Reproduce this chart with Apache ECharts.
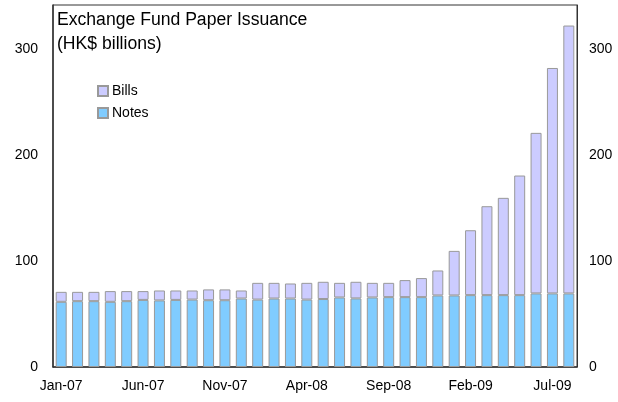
<!DOCTYPE html>
<html>
<head>
<meta charset="utf-8">
<script src="https://cdn.jsdelivr.net/npm/echarts@6/dist/echarts.min.js"></script>
<style>html,body{margin:0;padding:0;background:#fff}#c{width:618px;height:402px}</style>
</head>
<body>
<div id="c"></div>
<script>
const months = ['Jan-07','Feb-07','Mar-07','Apr-07','May-07','Jun-07','Jul-07','Aug-07','Sep-07','Oct-07','Nov-07','Dec-07',
  'Jan-08','Feb-08','Mar-08','Apr-08','May-08','Jun-08','Jul-08','Aug-08','Sep-08','Oct-08','Nov-08','Dec-08',
  'Jan-09','Feb-09','Mar-09','Apr-09','May-09','Jun-09','Jul-09','Aug-09'];
const notes = [61.6,62.2,62.2,61.6,62.2,63.4,62.9,63.4,63.7,63.1,63.1,64.7,63.7,64.7,64.7,63.7,64.2,65.7,64.8,65.7,66.0,66.0,66.0,67.6,67.6,67.9,67.9,67.9,67.9,69.5,69.5,69.5];
const bills = [9.4,8.8,8.8,10.1,9.5,8.3,9.4,8.9,8.6,10.2,10.2,7.6,15.8,14.8,14.2,15.8,16.3,13.8,15.7,13.8,13.5,16.1,18.0,23.6,42.1,61.3,84.0,91.9,113.0,151.7,213.0,253.1];
const yTicks = [0,100,200,300];

const FONT = 'Liberation Sans, Arial, sans-serif';
const chart = echarts.init(document.getElementById('c'), null, {renderer:'canvas'});
const yLabelL = {
  fontFamily: FONT, fontSize: 14, color: '#000', margin: 15,
  formatter: v => yTicks.includes(v) ? String(v) : ''
};
const yLabelR = Object.assign({}, yLabelL, {margin: 12});
chart.setOption({
  animation: false,
  backgroundColor: '#fff',
  title: {
    text: 'Exchange Fund Paper Issuance\n(HK$ billions)',
    left: 52, top: 3,
    textStyle: {fontFamily: FONT, fontSize: 17.6, fontWeight: 'normal', color: '#000', lineHeight: 24}
  },
  legend: {
    data: ['Bills','Notes'],
    orient: 'vertical', left: 92, top: 79,
    itemWidth: 10, itemHeight: 10, itemGap: 8, icon: 'rect',
    textStyle: {fontFamily: FONT, fontSize: 14, color: '#000', padding: [0,0,0,-1]}
  },
  grid: {left: 53, right: 41, top: 5, bottom: 35, show: true, borderColor: '#333', borderWidth: 1},
  xAxis: {
    type: 'category', data: months,
    axisLine: {lineStyle: {color: '#333', width: 1.5}},
    axisTick: {show: false},
    axisLabel: {interval: 4, fontFamily: FONT, fontSize: 14, color: '#000', margin: 12}
  },
  yAxis: [
    {type: 'value', min: 0, max: 342, interval: 100, splitLine: {show: false},
     axisLine: {show: true, lineStyle: {color: '#333', width: 1.5}}, axisTick: {show: false}, axisLabel: yLabelL},
    {type: 'value', position: 'right', min: 0, max: 342, interval: 100, splitLine: {show: false},
     axisLine: {show: true, lineStyle: {color: '#333', width: 1}}, axisTick: {show: false}, axisLabel: yLabelR}
  ],
  series: [
    {name: 'Notes', type: 'bar', stack: 'a', data: notes, barCategoryGap: '33%',
     itemStyle: {color: '#80ccff', borderColor: '#999', borderWidth: 1}},
    {name: 'Bills', type: 'bar', stack: 'a', data: bills, barCategoryGap: '33%',
     itemStyle: {color: '#ccccff', borderColor: '#999', borderWidth: 1}}
  ]
});
</script>
</body>
</html>
